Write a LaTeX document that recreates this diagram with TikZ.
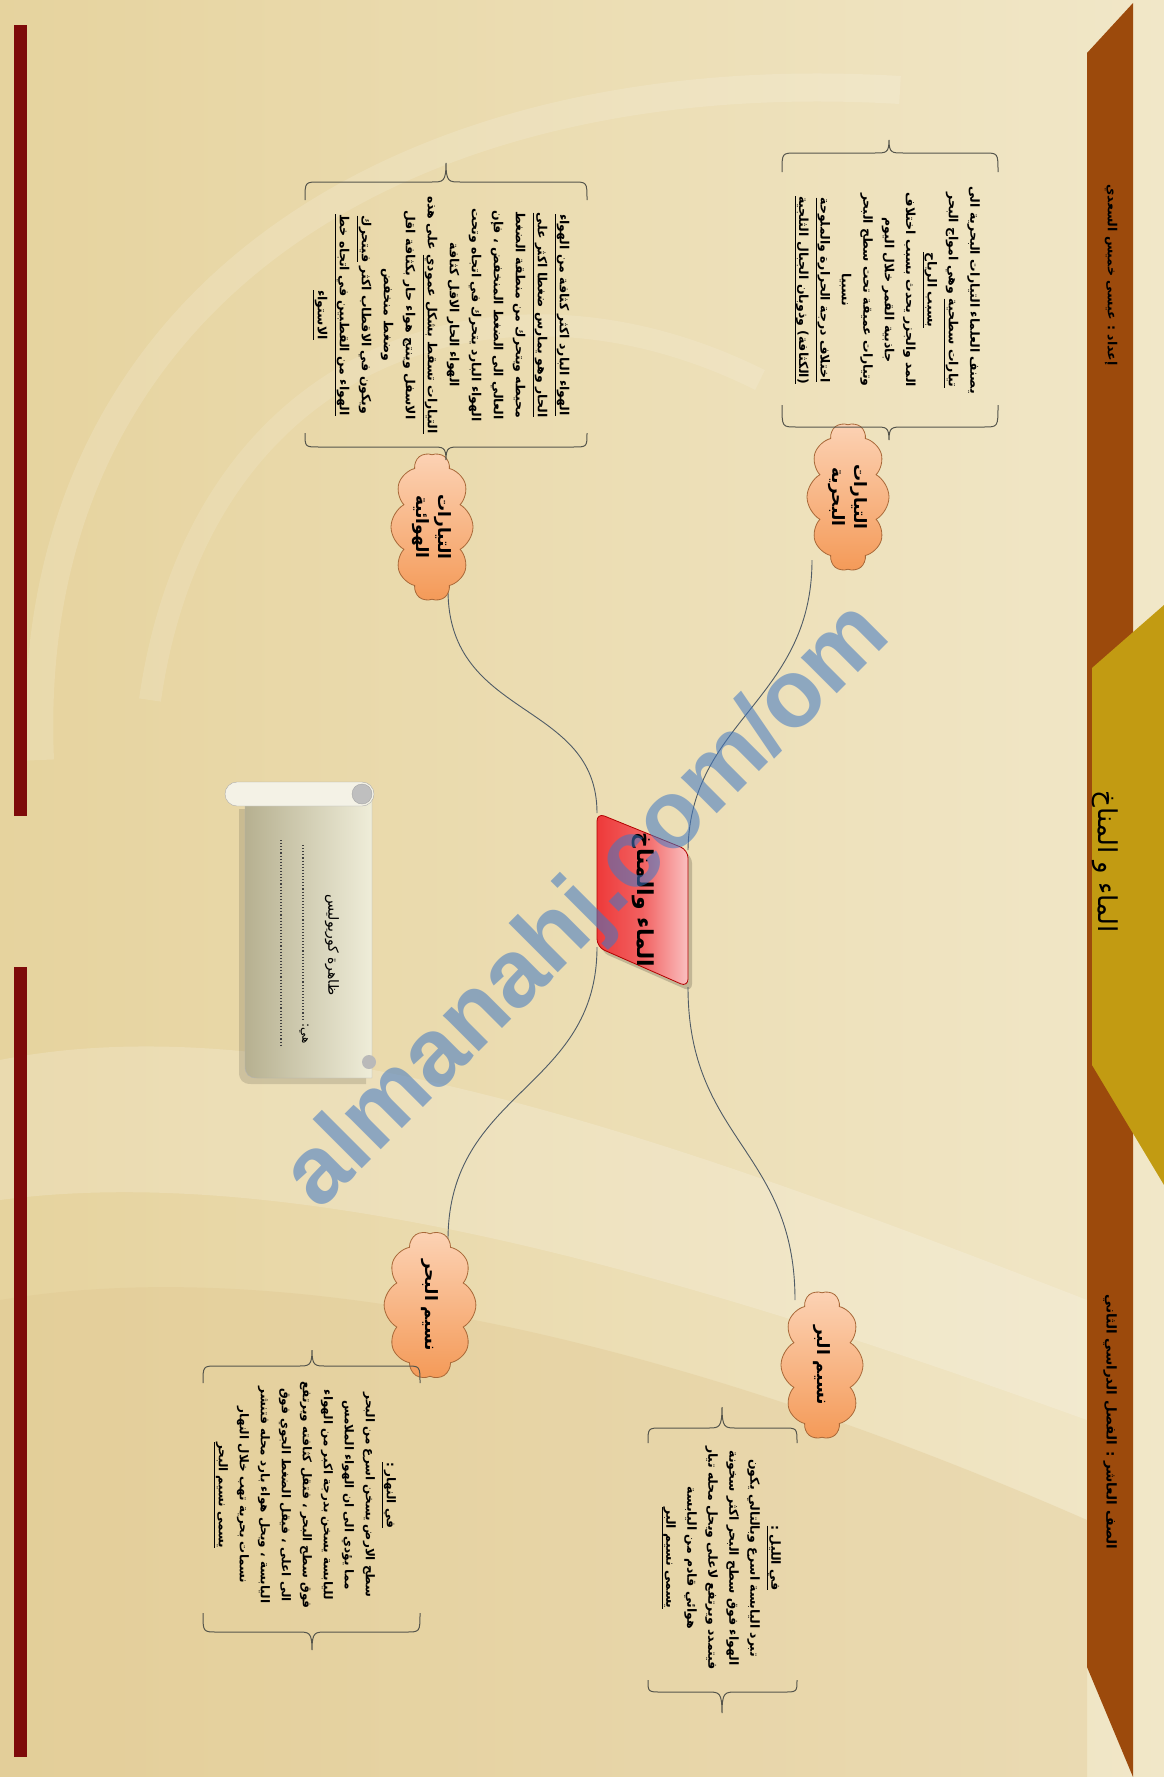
\documentclass[tikz,border=0pt]{standalone}
\usepackage{fontspec}
\newfontfamily\ar[Script=Arabic]{DejaVu Sans}
\newfontfamily\wmfont{Liberation Sans}
\TeXXeTstate=1
\usetikzlibrary{shapes.symbols}
\newcommand\RL[1]{\beginR #1\endR}
\newcommand\UL[1]{\underline{\RL{#1}}}
\definecolor{bgA}{HTML}{E6D39E}
\definecolor{bgB}{HTML}{F1E7C8}
\definecolor{bandbrown}{HTML}{9C4A0C}
\definecolor{bandgold}{HTML}{C29B12}
\definecolor{barred}{HTML}{7E0A0A}
\definecolor{cloudL}{HTML}{FCD2B4}
\definecolor{cloudD}{HTML}{F49A58}
\definecolor{cloudB}{HTML}{A86838}
\definecolor{linec}{HTML}{4F5B66}
\definecolor{bracec}{HTML}{55554C}
\definecolor{redD}{HTML}{EE3A3A}
\definecolor{redL}{HTML}{FAC0C0}
\definecolor{scrollL}{HTML}{EFEDD9}
\definecolor{scrollD}{HTML}{B6B090}
\definecolor{scrollR}{HTML}{F4F2E6}
\definecolor{wm}{HTML}{3F78C4}
\tikzset{
 cloudnode/.style={cloud, cloud puffs=10, cloud puff arc=120, aspect=1.8,
   minimum width=148pt, minimum height=82pt, inner sep=0pt, draw=cloudB, line width=0.8pt,
   top color=cloudL, bottom color=cloudD, rotate=-90, align=center,
   font=\ar\bfseries\fontsize{17}{22}\selectfont},
 blocktxt/.style={rotate=-90, align=center, inner sep=0pt, font=\ar\bfseries\fontsize{12.5}{21.4}\selectfont},
 conn/.style={draw=linec, line width=0.9pt},
 bracestyle/.style={draw=bracec, line width=1pt},
 headtxt/.style={rotate=-90, inner sep=0pt, text=black}
}
\newcommand\hbrace[6]{%
 \draw[bracestyle] (#1,#6) .. controls (#1,#5) and (#1,#5) .. (#1+14,#5) -- (#3-14,#5)
   .. controls (#3-3,#5) and (#3,#5) .. (#3,#4)
   .. controls (#3,#5) and (#3+3,#5) .. (#3+14,#5) -- (#2-14,#5)
   .. controls (#2,#5) and (#2,#5) .. (#2,#6);}
\begin{document}
\begin{tikzpicture}[x=1pt,y=-1pt]
\useasboundingbox (0,0) rectangle (1164,1777);
% background
\shade[left color=bgA, right color=bgB] (0,0) rectangle (1164,1777);
\fill[white, opacity=.18] (0,1060) .. controls (300,1000) and (700,1150) .. (1087,1300) -- (1087,1420) .. controls (700,1280) and (300,1160) .. (0,1200) -- cycle;
\fill[bgA!85!brown, opacity=.35] (0,1300) .. controls (300,1250) and (700,1350) .. (1087,1520) -- (1087,1777) -- (0,1777) -- cycle;
\draw[white, opacity=.14, line width=28pt] (40,760) .. controls (20,300) and (400,60) .. (900,90);
\draw[white, opacity=.12, line width=22pt] (150,700) .. controls (200,350) and (500,250) .. (760,380);
% left bars
\fill[barred] (14,25) rectangle (27,816);
\fill[barred] (14,967) rectangle (27,1757);
% header band
\fill[bandbrown] (1087,53) -- (1133,3) -- (1133,1777) -- (1087,1667) -- cycle;
\fill[bandgold] (1092,668) -- (1164,605) -- (1164,1185) -- (1092,1065) -- cycle;
\node[headtxt, font=\ar\fontsize{26}{30}\selectfont] (title) at (1105,862) {\RL{الماء و المناخ}};
\node[headtxt, font=\ar\bfseries\fontsize{12.5}{14}\selectfont] (author) at (1111,275) {\RL{إعداد : عيسى خميس السعدي}};
\node[headtxt, font=\ar\bfseries\fontsize{13.5}{15}\selectfont] (grade) at (1110,1422) {\RL{الصف العاشر : الفصل الدراسي الثاني}};
% connector end points
\coordinate (ctrTL) at (597,813);
\coordinate (ctrTR) at (688,850);
\coordinate (ctrBR) at (688,987);
\coordinate (ctrBL) at (597,947);
\coordinate (c1in) at (812,560);
\coordinate (c2in) at (448,590);
\coordinate (c3in) at (448,1240);
\coordinate (c4in) at (795,1300);
\draw[conn] (ctrTR) .. controls (690,720) and (812,700) .. (c1in);
\draw[conn] (ctrTL) .. controls (597,700) and (448,720) .. (c2in);
\draw[conn] (ctrBL) .. controls (597,1090) and (448,1090) .. (c3in);
\draw[conn] (ctrBR) .. controls (688,1140) and (795,1150) .. (c4in);
% center node
\fill[black, opacity=.18, rounded corners=8] (601,818) -- (692,855) -- (692,992) -- (601,952) -- cycle;
\draw[draw=red!70!black, line width=0.8pt, left color=redD, right color=redL, middle color=redD!80!white, rounded corners=8] (ctrTL) -- (ctrTR) -- (ctrBR) -- (ctrBL) -- cycle;
\node[headtxt, font=\ar\bfseries\fontsize{22}{24}\selectfont] (ctr) at (643,900) {\RL{الماء والمناخ}};
% clouds
\node[cloudnode] (c1) at (848,497) {\RL{التيارات}\\\RL{البحرية}};
\node[cloudnode] (c2) at (432,527) {\RL{التيارات}\\\RL{الهوائية}};
\node[cloudnode] (c3) at (430,1305) {\RL{نسيم البحر}};
\node[cloudnode] (c4) at (822,1365) {\RL{نسيم البر}};
% braces
\hbrace{782}{998}{889}{140}{153}{172}
\hbrace{782}{998}{889}{440}{427}{405}
\hbrace{305}{587}{446}{163}{182}{200}
\hbrace{305}{587}{446}{460}{447}{433}
\hbrace{648}{797}{722}{1407}{1428}{1443}
\hbrace{648}{797}{722}{1713}{1692}{1680}
\hbrace{203}{420}{312}{1350}{1366}{1383}
\hbrace{203}{420}{312}{1650}{1632}{1613}
% text blocks
\node[blocktxt] (t1) at (887,290) {%
\RL{يصنف العلماء التيارات البحرية الى}\\
\RL{\UL{تيارات سطحية} وهي امواج البحر}\\
\UL{بسبب الرياح}\\
\RL{المد والجزر يحدث بسبب اختلاف}\\
\RL{جاذبية القمر خلال اليوم}\\
\RL{وتيارات عميقة تحت سطح البحر}\\
\RL{نسبيا}\\
\UL{اختلاف درجة الحرارة والملوحة}\\
\UL{(الكثافة) وذوبان الجبال الثلجية}};
\node[blocktxt, font=\ar\bfseries\fontsize{12.5}{22}\selectfont] (t2) at (441,315) {%
\UL{الهواء البارد اكثر كثافة من الهواء}\\
\UL{الحار وهو يمارس ضغطا اكثر على}\\
\RL{محيطه ويتحرك من منطقة الضغط}\\
\RL{العالي الى الضغط المنخفض ، فإن}\\
\RL{الهواء البارد يتحرك في اتجاه وتحت}\\
\RL{الهواء الحار الاقل كثافة}\\
\RL{\UL{التيارات تسقط بشكل عمودي} على هذه}\\
\RL{الاسفل وينتج هواء حار بكثافة اقل}\\
\RL{وضغط منخفض}\\
\RL{ويكون في الاقطاب اكثر \UL{فيتحرك}}\\
\UL{الهواء من القطبين في اتجاه خط}\\
\UL{الاستواء}};
\node[blocktxt, font=\ar\bfseries\fontsize{12.5}{21}\selectfont] (t3) at (721,1558) {%
\UL{في الليل :}\\
\RL{تبرد اليابسة اسرع وبالتالي يكون}\\
\RL{الهواء فوق سطح البحر اكثر سخونة}\\
\RL{فيتمدد ويرتفع لاعلى ويحل محله تيار}\\
\RL{هوائي قادم من اليابسة}\\
\UL{يسمى نسيم البر}};
\node[blocktxt, font=\ar\bfseries\fontsize{12}{21}\selectfont] (t4) at (305,1495) {%
\UL{في النهار :}\\
\RL{سطح الارض يسخن اسرع من البحر}\\
\RL{مما يؤدي الى ان الهواء الملامس}\\
\RL{لليابسة يسخن بدرجة اكبر من الهواء}\\
\RL{فوق سطح البحر ، فتقل كثافته ويرتفع}\\
\RL{الى اعلى ، فيقل الضغط الجوي فوق}\\
\RL{اليابسة ، ويحل هواء بارد محله فتنشر}\\
\RL{نسمات بحرية تهب خلال النهار}\\
\UL{يسمى نسيم البحر}};
% scroll
\fill[black, opacity=.13] (239,809) -- (366,809) -- (366,1084) -- (251,1084) .. controls (243,1084) and (239,1080) .. (239,1072) -- cycle;
\draw[draw=gray!60, left color=scrollD, right color=scrollL] (245,800) -- (372,800) -- (372,1078) -- (257,1078) .. controls (249,1078) and (245,1074) .. (245,1066) -- cycle;
\fill[gray!55] (369,1062) circle (7);
\draw[draw=gray!65, fill=scrollR, rounded corners=12] (225,782) rectangle (374,806);
\draw[draw=gray!70, fill=gray!50] (362,794) circle (10);
\node[headtxt, font=\ar\fontsize{14}{16}\selectfont] (sq) at (332,945) {\RL{ظاهرة كوريوليس}};
\node[headtxt, font=\ar\fontsize{12}{14}\selectfont] (sh) at (304,1034) {\RL{هي:}};
\draw[dotted, line width=1.1pt, gray!50!black] (303,845) -- (303,1020);
\draw[dotted, line width=1.1pt, gray!50!black] (281,840) -- (281,1047);
% watermark
\node[rotate=45, text=wm, opacity=.55, font=\wmfont\bfseries\fontsize{96}{100}\selectfont] (wmk) at (589,907) {almanahj.com/om};
\end{tikzpicture}
\end{document}
